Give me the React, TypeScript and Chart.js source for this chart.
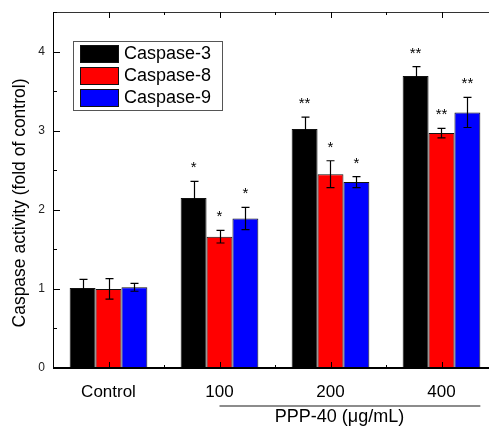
import React, { useEffect, useRef } from "react";
import { Chart, registerables } from "chart.js";

Chart.register(...registerables);

const categories = ["Control", "100", "200", "400"];
const seriesNames = ["Caspase-3", "Caspase-8", "Caspase-9"];
const caspase3 = [1.01, 2.15, 3.02, 3.69];
const caspase8 = [1.0, 1.66, 2.45, 2.97];
const caspase9 = [1.02, 1.89, 2.35, 3.23];
const err3 = [0.11, 0.21, 0.15, 0.12];
const err8 = [0.13, 0.08, 0.17, 0.06];
const err9 = [0.05, 0.14, 0.07, 0.19];
const sig3 = ["", "*", "**", "**"];
const sig8 = ["", "*", "*", "**"];
const sig9 = ["", "*", "*", "**"];
const yTickLabels = [0, 1, 2, 3, 4];
const yMinorTicks = [0.5, 1.5, 2.5, 3.5, 4.5];
const yTitle = "Caspase activity (fold of control)";
const groupTitle = "PPP-40 (μg/mL)";

const colors = ["#000000", "#ff0000", "#0000ff"];
const FONT = "'Liberation Sans', Arial, sans-serif";

const CANVAS_W = 520;
const CANVAS_H = 431;

export default function App() {
  const ref = useRef<HTMLCanvasElement | null>(null);

  useEffect(() => {
    if (!ref.current) return;
    const values = [caspase3, caspase8, caspase9];
    const errs = [err3, err8, err9];
    const sigs = [sig3, sig8, sig9];

    const overlay = {
      id: "overlay",
      afterDatasetsDraw(chart: any) {
        const ctx = chart.ctx as CanvasRenderingContext2D;
        const y = chart.scales.y;
        ctx.save();
        // error bars
        ctx.strokeStyle = "#000";
        ctx.lineWidth = 1.2;
        values.forEach((vals, i) => {
          const meta = chart.getDatasetMeta(i);
          meta.data.forEach((el: any, j: number) => {
            const v = vals[j];
            const e = errs[i][j];
            const top = y.getPixelForValue(v + e);
            const bot = y.getPixelForValue(v - e);
            const x = Math.round(el.x) + 0.5;
            ctx.beginPath();
            ctx.moveTo(x, bot);
            ctx.lineTo(x, top);
            ctx.moveTo(x - 4, top);
            ctx.lineTo(x + 4, top);
            ctx.moveTo(x - 4, bot);
            ctx.lineTo(x + 4, bot);
            ctx.stroke();
            const s = sigs[i][j];
            if (s) {
              ctx.fillStyle = "#000";
              ctx.font = `15px ${FONT}`;
              ctx.textAlign = "center";
              ctx.textBaseline = "alphabetic";
              ctx.fillText(s, el.x, top - 9);
            }
          });
        });
        ctx.restore();
      },
      afterDraw(chart: any) {
        const ctx = chart.ctx as CanvasRenderingContext2D;
        const x = chart.scales.x;
        const y = chart.scales.y;
        const area = chart.chartArea;
        const left = area.left;
        const right = CANVAS_W;
        const top = area.top;
        const bottom = area.bottom;
        ctx.save();

        // top border
        ctx.strokeStyle = "#333";
        ctx.lineWidth = 1;
        ctx.beginPath();
        ctx.moveTo(left, top + 0.5);
        ctx.lineTo(right, top + 0.5);
        ctx.stroke();

        // left axis
        ctx.strokeStyle = "#000";
        ctx.beginPath();
        ctx.moveTo(left + 0.5, top);
        ctx.lineTo(left + 0.5, bottom);
        ctx.stroke();

        // bottom axis
        ctx.lineWidth = 2;
        ctx.beginPath();
        ctx.moveTo(left, bottom);
        ctx.lineTo(right, bottom);
        ctx.stroke();

        // y ticks
        ctx.lineWidth = 1;
        ctx.strokeStyle = "#000";
        yTickLabels.forEach((t) => {
          const py = Math.round(y.getPixelForValue(t)) + 0.5;
          ctx.beginPath();
          ctx.moveTo(left, py);
          ctx.lineTo(left + 7, py);
          ctx.stroke();
        });
        yMinorTicks.forEach((t) => {
          const py = Math.round(y.getPixelForValue(t)) + 0.5;
          ctx.beginPath();
          ctx.moveTo(left, py);
          ctx.lineTo(left + 4, py);
          ctx.stroke();
        });

        // x ticks (bottom and top)
        const step = x.getPixelForValue(1) - x.getPixelForValue(0);
        categories.forEach((_, i) => {
          const px = Math.round(x.getPixelForValue(i)) + 0.5;
          ctx.beginPath();
          ctx.moveTo(px, bottom);
          ctx.lineTo(px, bottom - 6);
          ctx.moveTo(px, top);
          ctx.lineTo(px, top + 6);
          ctx.stroke();
          const mx = Math.round(x.getPixelForValue(i) + step / 2) + 0.5;
          ctx.beginPath();
          ctx.moveTo(mx, bottom);
          ctx.lineTo(mx, bottom - 3);
          ctx.moveTo(mx, top);
          ctx.lineTo(mx, top + 3);
          ctx.stroke();
        });

        // y tick labels
        ctx.fillStyle = "#222";
        ctx.font = `12px ${FONT}`;
        ctx.textAlign = "right";
        ctx.textBaseline = "middle";
        yTickLabels.forEach((t) => {
          ctx.fillText(String(t), left - 8, y.getPixelForValue(t));
        });

        // x tick labels
        ctx.fillStyle = "#000";
        ctx.font = `17px ${FONT}`;
        ctx.textAlign = "center";
        ctx.textBaseline = "middle";
        categories.forEach((c, i) => {
          ctx.fillText(c, x.getPixelForValue(i), bottom + 24);
        });

        // group line and title
        const groupW = step * 0.7;
        const gStart = x.getPixelForValue(1);
        const gEnd = x.getPixelForValue(3) + groupW / 2;
        ctx.strokeStyle = "#666";
        ctx.lineWidth = 1.5;
        ctx.beginPath();
        ctx.moveTo(gStart, bottom + 38);
        ctx.lineTo(gEnd, bottom + 38);
        ctx.stroke();
        ctx.fillStyle = "#000";
        ctx.font = `18px ${FONT}`;
        ctx.fillText(groupTitle, x.getPixelForValue(2) + 9, bottom + 49);

        // y title
        ctx.save();
        ctx.translate(20.5, 203);
        ctx.rotate(-Math.PI / 2);
        ctx.font = `17.5px ${FONT}`;
        ctx.textAlign = "center";
        ctx.textBaseline = "middle";
        ctx.fillText(yTitle, 0, 0);
        ctx.restore();

        // legend
        const lx = left + 20;
        const ly = top + 29;
        ctx.fillStyle = "#fff";
        ctx.fillRect(lx, ly, 149, 69);
        ctx.strokeStyle = "#555";
        ctx.lineWidth = 1;
        ctx.strokeRect(lx + 0.5, ly + 0.5, 149, 69);
        seriesNames.forEach((n, i) => {
          const ry = ly + 4 + i * 22;
          ctx.fillStyle = colors[i];
          ctx.fillRect(lx + 7, ry, 39, 18);
          ctx.strokeStyle = "#111";
          ctx.strokeRect(lx + 7.5, ry + 0.5, 38, 17);
          ctx.fillStyle = "#000";
          ctx.font = `18px ${FONT}`;
          ctx.textAlign = "left";
          ctx.textBaseline = "middle";
          ctx.fillText(n, lx + 51, ry + 9.5);
        });

        ctx.restore();
      },
    };

    const chart = new Chart(ref.current, {
      type: "bar",
      data: {
        labels: categories,
        datasets: values.map((vals, i) => ({
          label: seriesNames[i],
          data: vals,
          backgroundColor: colors[i],
          borderColor: "#111",
          borderWidth: 1,
          categoryPercentage: 0.7,
          barPercentage: 1.0,
        })),
      },
      options: {
        animation: false,
        responsive: false,
        devicePixelRatio: 1,
        layout: { padding: { left: 53, right: CANVAS_W - 497, top: 12, bottom: CANVAS_H - 368 } },
        plugins: { legend: { display: false }, tooltip: { enabled: false }, title: { display: false } },
        scales: {
          x: { type: "category", display: false, offset: true },
          y: { type: "linear", display: false, min: 0, max: 4.5 },
        },
      },
      plugins: [overlay],
    } as any);
    return () => chart.destroy();
  }, []);

  return (
    <div style={{ position: "fixed", left: 0, top: 0, width: 489, height: 431, overflow: "hidden", background: "#fff" }}>
      <canvas ref={ref} width={CANVAS_W} height={CANVAS_H} style={{ display: "block" }} />
    </div>
  );
}
